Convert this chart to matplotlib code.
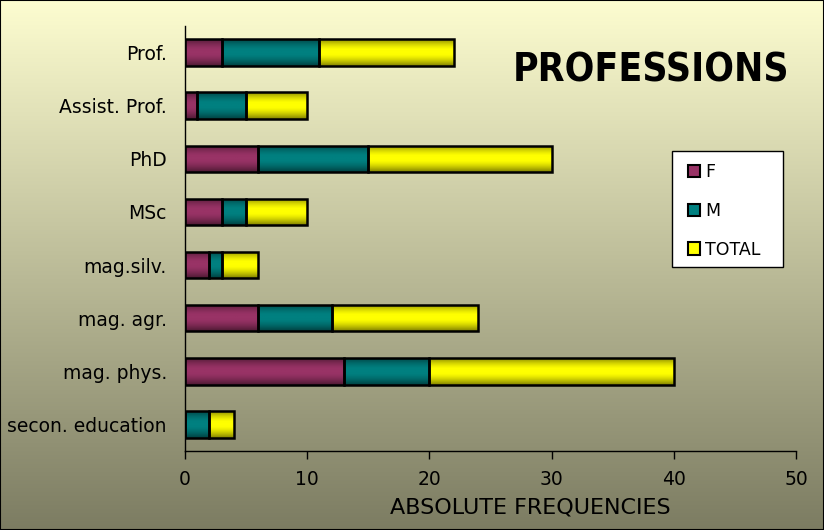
import matplotlib
matplotlib.use("Agg")
import matplotlib.pyplot as plt
import numpy as np
from matplotlib.patches import Rectangle
from matplotlib.colors import to_rgb

categories = ["secon. education", "mag. phys.", "mag. agr.", "mag.silv.", "MSc", "PhD", "Assist. Prof.", "Prof."]
F = [0, 13, 6, 2, 3, 6, 1, 3]
M = [2, 7, 6, 1, 2, 9, 4, 8]
TOTAL = [2, 20, 12, 3, 5, 15, 5, 11]
series_names = ["F", "M", "TOTAL"]
colors = ["#993366", "#008080", "#FFFF00"]
xticks = [0, 10, 20, 30, 40, 50]

fig = plt.figure(figsize=(8.24, 5.30), dpi=100)

# background gradient
bg = fig.add_axes([0, 0, 1, 1], zorder=-10)
top = np.array([253, 253, 208]) / 255
bot = np.array([124, 124, 98]) / 255
t = np.linspace(0, 1, 256)[:, None]
grad = top[None, None, :] * (1 - t[:, :, None]) + bot[None, None, :] * t[:, :, None]
grad = np.repeat(grad, 2, axis=1)
bg.imshow(grad, aspect="auto", extent=[0, 1, 0, 1])
bg.set_axis_off()
fig.patches.append(Rectangle((0, 0), 1, 1, transform=fig.transFigure, fill=False,
                             edgecolor="black", linewidth=1.5))

ax = fig.add_axes([185 / 824, 1 - 451 / 530, (796 - 185) / 824, (451 - 26) / 530])
ax.patch.set_alpha(0)
y = np.arange(len(categories))
left = np.zeros(len(categories))

# vertical shading profile for bars (top -> bottom)
s = np.linspace(0, 1, 64)
shade = 1 - 0.45 * np.clip((0.4 - s) / 0.4, 0, 1) ** 1.5 - 0.5 * np.clip((s - 0.55) / 0.45, 0, 1) ** 1.5

handles = []
for vals, name, c in zip([F, M, TOTAL], series_names, colors):
    vals = np.array(vals, dtype=float)
    bars = ax.barh(y, vals, left=left, height=0.5, color=c, edgecolor="none", label=name, zorder=2)
    rgb = np.array(to_rgb(c))
    img = np.clip(shade[:, None, None] * rgb[None, None, :], 0, 1)
    for p in bars.patches:
        if p.get_width() <= 0:
            continue
        x0, y0, w, h = p.get_x(), p.get_y(), p.get_width(), p.get_height()
        im = ax.imshow(img, aspect="auto", extent=[x0, x0 + w, y0, y0 + h],
                       origin="upper", zorder=2.5, interpolation="bilinear")
        im.set_clip_path(p)
    ax.barh(y, vals, left=left, height=0.5, color="none", edgecolor="black", linewidth=1.8, zorder=3)
    handles.append(Rectangle((0, 0), 1, 1, facecolor=c, edgecolor="black", linewidth=1.5))
    left += vals

ax.set_xlim(0, 50)
ax.set_ylim(-0.5, len(categories) - 0.5)
ax.set_xticks(xticks)
ax.set_xticklabels([str(v) for v in xticks], fontsize=13.5)
ax.set_yticks(y)
ax.set_yticklabels(categories, fontsize=13.5)
ax.tick_params(axis="y", length=0, pad=13)
ax.tick_params(axis="x", direction="out", length=6, width=1, pad=8)
for sp in ["top", "right"]:
    ax.spines[sp].set_visible(False)
ax.spines["left"].set_linewidth(1)
ax.spines["bottom"].set_linewidth(1)
ax.set_xlabel("ABSOLUTE FREQUENCIES", fontsize=16, labelpad=6, x=0.565)

fig.text(651 / 824, 1 - 71 / 530, "PROFESSIONS", fontsize=28, fontweight="bold",
         ha="center", va="center", fontstretch="condensed")

# legend box
fig.patches.append(Rectangle((672 / 824, 1 - 267 / 530), (783 - 672) / 824, (267 - 151) / 530,
                             transform=fig.transFigure, facecolor="white", edgecolor="black",
                             linewidth=1, zorder=5))
leg = fig.legend(handles, series_names, loc="upper left",
                 bbox_to_anchor=(681 / 824, 1 - 156 / 530),
                 frameon=False, fontsize=12.5, handlelength=0.7, handleheight=0.7,
                 labelspacing=1.2, borderpad=0.4, handletextpad=0.3, borderaxespad=0)
leg.set_zorder(6)

fig.savefig("out.png", dpi=100)
